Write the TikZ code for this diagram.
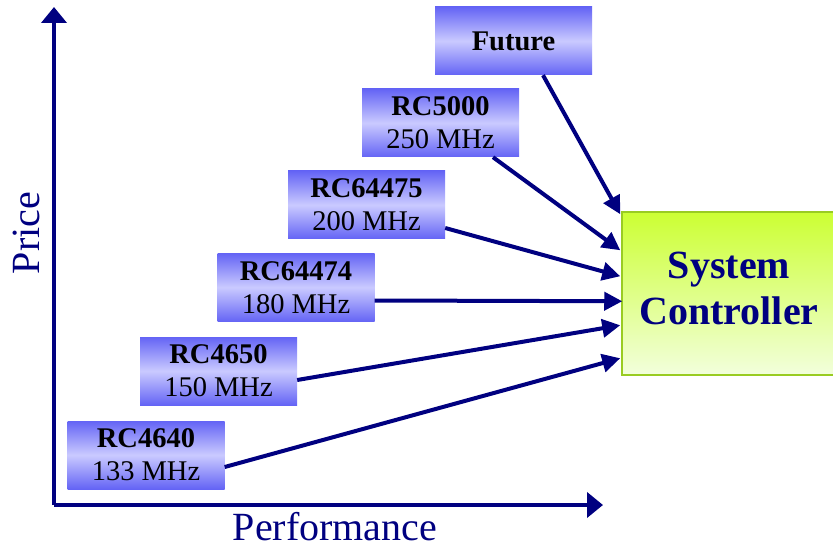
\documentclass[tikz,border=0pt]{standalone}
\usepackage{fontspec}
\setmainfont{Liberation Serif}
\usetikzlibrary{arrows.meta,shadings,calc}
\definecolor{navy}{HTML}{000080}
\definecolor{boxedge}{HTML}{6464F5}
\definecolor{boxmid}{HTML}{CACAFF}
\definecolor{sctop}{HTML}{CCFF33}
\definecolor{scbot}{HTML}{F2FFDC}
\definecolor{scline}{HTML}{99CC22}
\tikzset{
  chipbox/.style={rectangle, minimum width=157pt, minimum height=68pt, inner sep=0pt,
    top color=boxedge, bottom color=boxedge, middle color=boxmid, draw=none,
    align=center, font=\fontsize{28.5}{33}\selectfont, text=black},
  link/.style={draw=navy, line width=4pt, -{Triangle[length=18pt,width=18pt]}},
  axisline/.style={draw=navy, line width=4pt, -{Triangle[length=16pt,width=25pt]}},
  axislabel/.style={font=\fontsize{40}{46}\selectfont, text=navy, inner sep=0pt}
}
\begin{document}
\begin{tikzpicture}[x=1pt,y=-1pt]
\useasboundingbox (0,0) rectangle (833,548);
% axes
\coordinate (org) at (54,505);
\coordinate (ytip) at (54,7);
\coordinate (xtip) at (603,505);
\draw[axisline] (org) -- (ytip);
\draw[axisline] (org) -- (xtip);
\node[axislabel, rotate=90, anchor=center] (price) at (26,233) {Price};
\node[axislabel, anchor=base] (perf) at (335,540) {Performance};
% boxes
\node[chipbox] (fut) at (513.5,41) {\textbf{Future}};
\node[chipbox] (b5000) at (440.5,123) {\textbf{RC5000}\\250 MHz};
\node[chipbox] (b64475) at (366.5,205) {\textbf{RC64475}\\200 MHz};
\node[chipbox] (b64474) at (296,287.5) {\textbf{RC64474}\\180 MHz};
\node[chipbox] (b4650) at (218.5,371) {\textbf{RC4650}\\150 MHz};
\node[chipbox] (b4640) at (146,455) {\textbf{RC4640}\\133 MHz};
% system controller
\begin{scope}
\clip (0,0) rectangle (833,548);
\node[rectangle, minimum width=218pt, minimum height=163pt, inner sep=0pt,
  top color=sctop, bottom color=scbot, draw=scline, line width=1.5pt]
  (sc) at (731,293.5) {};
\end{scope}
\node[align=center, text=navy, inner sep=0pt,
  font=\bfseries\fontsize{40}{46}\selectfont, anchor=base]
  (sctext) at (729,324) {System\\Controller};
% connectors
\draw[link] ([xshift=29.5pt]fut.south) -- ([yshift=-3pt,xshift=-1pt]sc.north west);
\draw[link] ([xshift=52.5pt]b5000.south) -- ([yshift=-39pt,xshift=-1pt]sc.north west);
\draw[link] ([yshift=-23pt]b64475.east) -- ([yshift=-65pt,xshift=-1pt]sc.north west);
\draw[link] ([yshift=-13pt]b64474.east) -- ([yshift=-90pt,xshift=1pt]sc.north west);
\draw[link] ([yshift=-9pt]b4650.east) -- ([yshift=-114pt,xshift=-1pt]sc.north west);
\draw[link] ([yshift=-12pt]b4640.east) -- ([yshift=-147pt,xshift=-1pt]sc.north west);
\end{tikzpicture}
\end{document}
